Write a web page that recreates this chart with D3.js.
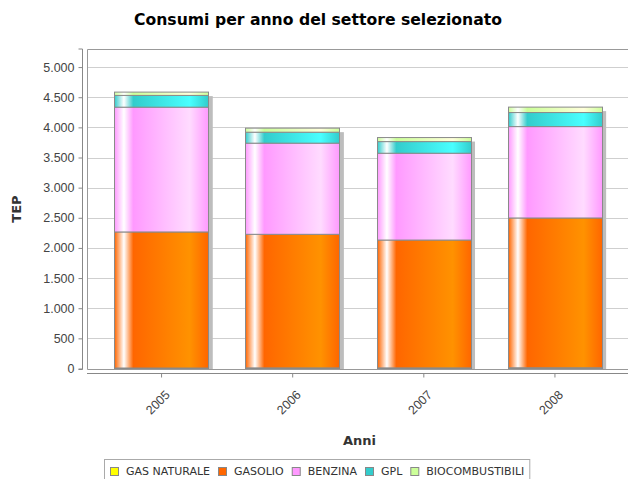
<!DOCTYPE html>
<html>
<head>
<meta charset="utf-8">
<script src="https://cdn.jsdelivr.net/npm/d3@7"></script>
<style>
  body { margin: 0; background: #fff; }
  svg { display: block; font-family: 'DejaVu Sans', sans-serif; }
</style>
</head>
<body>
<div id="chart"></div>
<script>
// data (TEP)
var anni = ['2005', '2006', '2007', '2008'];
var serie = ['GAS NATURALE', 'GASOLIO', 'BENZINA', 'GPL', 'BIOCOMBUSTIBILI'];
var gasNaturale = [8, 10, 10, 12];
var gasolio = [2257, 2216, 2121, 2485];
var benzina = [2070, 1512, 1440, 1516];
var gpl = [195, 182, 193, 233];
var biocombustibili = [55, 67, 67, 90];
var yTicks = [0, 500, 1000, 1500, 2000, 2500, 3000, 3500, 4000, 4500, 5000];

var colours = {
    'GAS NATURALE': '#ffff00',
    'GASOLIO': '#ff6600',
    'BENZINA': '#ff99ff',
    'GPL': '#33cccc',
    'BIOCOMBUSTIBILI': '#ccff99'
};

var width = 628, height = 479;
var plot = { left: 87, right: 628, top: 49, bottom: 369 };

var svg = d3.select('#chart')
    .append('svg')
    .attr('width', width)
    .attr('height', height);

var defs = svg.append('defs');

// java-style brighter()
function brighter(c) {
    var rgb = d3.rgb(c);
    function up(v) { return Math.min(255, Math.round(v / 0.7)); }
    var r = rgb.r, g = rgb.g, b = rgb.b;
    var i = 3;
    if (r > 0 && r < i) r = i;
    if (g > 0 && g < i) g = i;
    if (b > 0 && b < i) b = i;
    return d3.rgb(up(r), up(g), up(b)).toString();
}

serie.forEach(function(name, k) {
    var c0 = colours[name];
    var c1 = brighter(c0);
    var grad = defs.append('linearGradient')
        .attr('id', 'barGrad' + k)
        .attr('x1', 0).attr('x2', 1)
        .attr('y1', 0).attr('y2', 0);
    [[0, c0], [0.10, '#ffffff'], [0.20, c0], [0.80, c1], [1, c0]].forEach(function(s) {
        grad.append('stop')
            .attr('offset', s[0])
            .attr('stop-color', s[1]);
    });
});

var rows = anni.map(function(a, i) {
    return {
        anno: a,
        'GAS NATURALE': gasNaturale[i],
        'GASOLIO': gasolio[i],
        'BENZINA': benzina[i],
        'GPL': gpl[i],
        'BIOCOMBUSTIBILI': biocombustibili[i]
    };
});

var stacked = d3.stack().keys(serie)(rows);

var x = d3.scaleBand()
    .domain(anni)
    .range([96, 620.5])
    .paddingInner(0.28)
    .paddingOuter(0.14);

var y = d3.scaleLinear()
    .domain([0, 5300])
    .range([368.5, plot.top]);

// grid lines
svg.append('g')
    .selectAll('line')
    .data(yTicks.slice(1))
    .enter()
    .append('line')
    .attr('x1', plot.left)
    .attr('x2', plot.right)
    .attr('y1', function(d) { return Math.round(y(d)) + 0.5; })
    .attr('y2', function(d) { return Math.round(y(d)) + 0.5; })
    .attr('stroke', '#cfcfcf')
    .attr('stroke-width', 1);

// plot border
svg.append('path')
    .attr('d', 'M' + plot.right + ',' + (plot.top + 0.5) + 'H' + (plot.left + 0.5) + 'V' + (plot.bottom + 0.5) + 'H' + plot.right)
    .attr('fill', 'none')
    .attr('stroke', '#999')
    .attr('stroke-width', 1);

// shadows
svg.append('g')
    .selectAll('rect')
    .data(rows)
    .enter()
    .append('rect')
    .attr('x', function(d) { return x(d.anno) + 4; })
    .attr('y', function(d, i) { return y(stacked[stacked.length - 1][i][1]) + 4; })
    .attr('width', x.bandwidth())
    .attr('height', function(d, i) { return plot.bottom - y(stacked[stacked.length - 1][i][1]) - 4; })
    .attr('fill', '#bdbdbd');

// bars
var layers = svg.append('g')
    .selectAll('g')
    .data(stacked)
    .enter()
    .append('g')
    .attr('fill', function(d, k) { return 'url(#barGrad' + k + ')'; });

layers.selectAll('rect')
    .data(function(d) { return d; })
    .enter()
    .append('rect')
    .attr('x', function(d) { return Math.round(x(d.data.anno)) + 0.5; })
    .attr('y', function(d) { return y(d[1]); })
    .attr('width', Math.round(x.bandwidth()))
    .attr('height', function(d) { return Math.max(0, y(d[0]) - y(d[1])); })
    .attr('stroke', '#8a8a8a')
    .attr('stroke-width', 1);

// y axis
var yAxis = d3.axisLeft(y)
    .tickValues(yTicks)
    .tickSize(4)
    .tickPadding(4)
    .tickFormat(function(d) { return d3.format(',')(d).replace(/,/g, '.'); });

var gy = svg.append('g')
    .attr('transform', 'translate(82.5,0)')
    .call(yAxis);
gy.select('.domain').attr('d', 'M-4,' + plot.top + 'H0V' + (plot.bottom + 0.5) + 'H-4')
    .attr('stroke', '#888');
gy.selectAll('.tick line').attr('stroke', '#888');
gy.selectAll('.tick text')
    .attr('fill', '#444')
    .style('font-size', '12.5px');

// x axis
var xAxis = d3.axisBottom(x)
    .tickSize(4)
    .tickSizeOuter(0);

var gx = svg.append('g')
    .attr('transform', 'translate(0,373.5)')
    .call(xAxis);
gx.select('.domain').attr('d', 'M' + plot.left + ',0H' + plot.right).attr('stroke', '#888');
gx.selectAll('.tick line').attr('stroke', '#888');
gx.selectAll('.tick text')
    .attr('fill', '#444')
    .style('font-size', '12.5px')
    .attr('text-anchor', 'end')
    .attr('y', 0)
    .attr('dy', '0.35em')
    .attr('transform', 'translate(6,19) rotate(-45)');

// titles
svg.append('text')
    .attr('x', 318)
    .attr('y', 25)
    .attr('text-anchor', 'middle')
    .style('font-weight', 'bold')
    .style('font-size', '15px')
    .attr('textLength', 368)
    .attr('lengthAdjust', 'spacingAndGlyphs')
    .attr('fill', '#000')
    .text('Consumi per anno del settore selezionato');

svg.append('text')
    .attr('x', (plot.left + plot.right) / 2 + 2)
    .attr('y', 445)
    .attr('text-anchor', 'middle')
    .style('font-weight', 'bold')
    .style('font-size', '13px')
    .attr('fill', '#333')
    .text('Anni');

svg.append('text')
    .attr('transform', 'translate(21,' + ((plot.top + plot.bottom) / 2) + ') rotate(-90)')
    .attr('text-anchor', 'middle')
    .style('font-weight', 'bold')
    .style('font-size', '13px')
    .attr('fill', '#333')
    .text('TEP');

// legend
var legend = svg.append('g');
var lx = 110;
serie.forEach(function(name) {
    legend.append('rect')
        .attr('x', lx + 0.5)
        .attr('y', 467.5)
        .attr('width', 8)
        .attr('height', 8)
        .attr('fill', colours[name])
        .attr('stroke', '#888');
    var t = legend.append('text')
        .attr('x', lx + 16)
        .attr('y', 475)
        .style('font-size', '11px')
        .attr('fill', '#333')
        .text(name);
    lx += 16 + t.node().getComputedTextLength() + 8;
});
legend.insert('rect', ':first-child')
    .attr('x', 104.5)
    .attr('y', 459.5)
    .attr('width', lx - 104 - 3)
    .attr('height', 22)
    .attr('fill', '#fff')
    .attr('stroke', '#aaa');
</script>
</body>
</html>
